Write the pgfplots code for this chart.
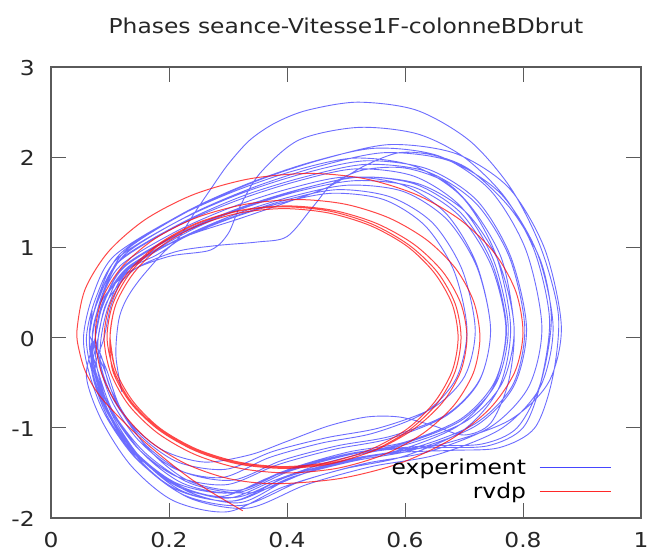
\documentclass[border=0pt]{standalone}
\usepackage{fontspec}
\setmainfont{DejaVu Sans}[FakeStretch=1.14]
\usepackage{pgfplots}
\pgfplotsset{compat=1.18}
\definecolor{expblue}{RGB}{30,30,255}
\definecolor{vdpred}{RGB}{255,10,10}
\definecolor{framegray}{RGB}{90,90,90}
\definecolor{legblue}{RGB}{70,70,255}
\definecolor{legred}{RGB}{255,40,40}
\begin{document}
\begin{tikzpicture}
\path[use as bounding box] (0,0) rectangle (652pt,557pt);
\begin{axis}[
  at={(51pt,39pt)}, anchor=south west,
  scale only axis, width=590pt, height=451pt,
  xmin=0, xmax=1, ymin=-2, ymax=3,
  xtick={0,0.2,0.4,0.6,0.8,1}, xticklabels={0,0.2,0.4,0.6,0.8,1},
  ytick={-2,-1,0,1,2,3}, yticklabels={-2,-1,0,1,2,3},
  tick align=inside, major tick length=15pt,
  tick style={framegray, line width=1pt},
  axis line style={framegray, line width=1.2pt},
  xticklabel style={anchor=base, inner sep=0pt, yshift=-29pt},
  yticklabel style={anchor=east, inner sep=0pt, xshift=-16pt, yshift=-1pt},
  every tick label/.append style={font=\fontsize{20.5}{24}\selectfont, text=black!85},
  title={Phases seance-Vitesse1F-colonneBDbrut},
  title style={at={(0.5,1)}, anchor=base, yshift=27pt, inner sep=0pt, font=\fontsize{20.5}{24}\selectfont, text=black!85},
  legend plot pos=right,
  legend cell align=right,
  legend style={at={(0.955,0.033)}, anchor=south east, draw=none, fill=none,
    font=\fontsize{20.5}{24}\selectfont,
    nodes={inner sep=1pt}, row sep=4.5pt, column sep=12pt},
  clip=false,
]
\addplot[expblue, opacity=0.65, line width=0.9pt, smooth, tension=0.5,
  legend image code/.code={\draw[draw=legblue, line width=1.3pt, opacity=1] (0pt,0pt) -- (71pt,0pt);}] coordinates {
(0.12,-0.6)(0.11,-0.2)(0.115,0.2)(0.13,0.45)(0.16,0.72)
(0.212,1.06)(0.300,1.31)(0.388,1.49)(0.476,1.60)(0.564,1.53)(0.634,1.24)(0.683,0.74)(0.705,0.09)(0.687,-0.45)(0.634,-0.83)(0.546,-1.06)(0.458,-1.17)(0.370,-1.33)(0.291,-1.55)(0.212,-1.46)(0.150,-1.15)(0.106,-0.74)(0.084,-0.34)
(0.080,0)(0.094,0.37)(0.125,0.74)(0.215,1.09)(0.305,1.33)(0.395,1.52)(0.485,1.64)(0.575,1.56)(0.647,1.27)(0.697,0.75)(0.719,0.09)(0.701,-0.43)(0.647,-0.78)(0.557,-1.00)(0.467,-1.11)(0.377,-1.26)(0.296,-1.46)(0.215,-1.38)(0.152,-1.09)(0.107,-0.70)(0.085,-0.32)
(0.085,0)(0.099,0.38)(0.132,0.76)(0.225,1.12)(0.318,1.38)(0.411,1.57)(0.504,1.69)(0.597,1.62)(0.671,1.31)(0.722,0.78)(0.745,0.10)(0.727,-0.46)(0.671,-0.85)(0.578,-1.09)(0.485,-1.20)(0.392,-1.36)(0.308,-1.58)(0.225,-1.49)(0.159,-1.18)(0.113,-0.75)(0.090,-0.35)
(0.070,0)(0.084,0.40)(0.118,0.80)(0.213,1.18)(0.308,1.45)(0.403,1.65)(0.498,1.78)(0.593,1.70)(0.669,1.38)(0.721,0.82)(0.745,0.10)(0.726,-0.48)(0.669,-0.87)(0.574,-1.12)(0.479,-1.24)(0.384,-1.41)(0.298,-1.63)(0.213,-1.54)(0.146,-1.22)(0.099,-0.78)(0.075,-0.36)
(0.090,0)(0.104,0.40)(0.138,0.80)(0.234,1.18)(0.330,1.45)(0.426,1.65)(0.522,1.78)(0.618,1.70)(0.695,1.38)(0.748,0.82)(0.772,0.10)(0.752,-0.49)(0.695,-0.90)(0.599,-1.16)(0.503,-1.27)(0.407,-1.45)(0.320,-1.69)(0.234,-1.59)(0.167,-1.25)(0.119,-0.80)(0.095,-0.37)
(0.075,0)(0.090,0.39)(0.124,0.78)(0.222,1.16)(0.320,1.42)(0.418,1.62)(0.516,1.74)(0.614,1.67)(0.692,1.35)(0.746,0.80)(0.771,0.10)(0.751,-0.53)(0.692,-0.97)(0.594,-1.24)(0.496,-1.37)(0.398,-1.55)(0.310,-1.81)(0.222,-1.70)(0.153,-1.34)(0.104,-0.86)(0.080,-0.40)
(0.075,0)(0.090,0.40)(0.125,0.80)(0.225,1.18)(0.325,1.45)(0.425,1.65)(0.525,1.78)(0.625,1.70)(0.705,1.38)(0.760,0.82)(0.785,0.10)(0.765,-0.50)(0.705,-0.92)(0.605,-1.18)(0.505,-1.30)(0.405,-1.48)(0.315,-1.72)(0.225,-1.62)(0.155,-1.28)(0.105,-0.82)(0.080,-0.38)
(0.065,0)(0.080,0.42)(0.115,0.84)(0.215,1.24)(0.315,1.52)(0.415,1.73)(0.515,1.87)(0.615,1.79)(0.695,1.45)(0.750,0.86)(0.775,0.11)(0.755,-0.50)(0.695,-0.92)(0.595,-1.18)(0.495,-1.30)(0.395,-1.48)(0.305,-1.72)(0.215,-1.62)(0.145,-1.28)(0.095,-0.82)(0.070,-0.38)
(0.08,0)(0.095,0.40)(0.14,0.75)(0.21,0.95)(0.28,1.02)(0.35,1.06)(0.40,1.12)(0.444,1.45)(0.478,1.71)(0.53,1.86)(0.60,1.88)(0.67,1.72)(0.72,1.38)(0.765,0.85)(0.785,0.10)(0.775,-0.50)(0.745,-0.95)(0.70,-1.08)(0.645,-0.97)(0.59,-0.88)(0.535,-0.88)(0.47,-0.98)(0.40,-1.15)(0.337,-1.30)(0.26,-1.38)(0.19,-1.25)(0.135,-0.95)(0.10,-0.55)(0.085,-0.20)
(0.065,0.05)(0.081,0.43)(0.117,0.86)(0.221,1.27)(0.325,1.57)(0.429,1.78)(0.533,1.92)(0.637,1.84)(0.720,1.49)(0.777,0.89)(0.803,0.11)(0.783,-0.52)(0.720,-0.95)(0.616,-1.22)(0.512,-1.34)(0.408,-1.52)(0.315,-1.77)(0.221,-1.67)(0.148,-1.32)(0.096,-0.84)(0.070,-0.39)
(0.060,0)(0.076,0.44)(0.113,0.88)(0.218,1.30)(0.323,1.60)(0.428,1.82)(0.533,1.96)(0.638,1.87)(0.722,1.52)(0.779,0.90)(0.806,0.11)(0.785,-0.53)(0.722,-0.97)(0.617,-1.24)(0.512,-1.37)(0.407,-1.55)(0.312,-1.81)(0.218,-1.70)(0.144,-1.34)(0.092,-0.86)(0.065,-0.40)
(0.055,0)(0.070,0.45)(0.106,0.90)(0.208,1.32)(0.310,1.62)(0.412,1.85)(0.514,1.99)(0.616,1.90)(0.698,1.55)(0.754,0.92)(0.779,0.11)(0.759,-0.56)(0.698,-1.03)(0.596,-1.32)(0.494,-1.46)(0.392,-1.66)(0.300,-1.93)(0.208,-1.81)(0.137,-1.43)(0.086,-0.92)(0.060,-0.43)
(0.075,0)(0.09,0.40)(0.13,0.78)(0.22,1.10)(0.32,1.32)(0.40,1.50)(0.47,1.67)(0.53,1.90)(0.59,2.05)(0.65,2.02)(0.71,1.86)(0.78,1.42)(0.83,0.85)(0.848,0.20)(0.83,-0.50)(0.79,-1.00)(0.73,-1.18)(0.64,-1.20)(0.55,-1.25)(0.46,-1.36)(0.37,-1.55)(0.29,-1.76)(0.21,-1.62)(0.14,-1.25)(0.095,-0.80)(0.072,-0.36)
(0.065,0)(0.081,0.47)(0.119,0.94)(0.227,1.39)(0.335,1.71)(0.443,1.95)(0.551,2.10)(0.659,2.01)(0.745,1.63)(0.805,0.97)(0.832,0.12)(0.810,-0.54)(0.745,-0.99)(0.637,-1.27)(0.529,-1.40)(0.421,-1.60)(0.324,-1.86)(0.227,-1.75)(0.151,-1.38)(0.097,-0.89)(0.070,-0.41)
(0.070,0)(0.087,0.46)(0.125,0.92)(0.235,1.36)(0.345,1.67)(0.455,1.90)(0.565,2.05)(0.675,1.96)(0.763,1.59)(0.824,0.94)(0.851,0.12)(0.829,-0.55)(0.763,-1.01)(0.653,-1.30)(0.543,-1.43)(0.433,-1.63)(0.334,-1.89)(0.235,-1.78)(0.158,-1.41)(0.103,-0.90)(0.076,-0.42)
(0.070,0)(0.087,0.48)(0.126,0.96)(0.238,1.42)(0.350,1.74)(0.462,1.98)(0.574,2.14)(0.686,2.04)(0.776,1.66)(0.837,0.98)(0.865,0.12)(0.843,-0.50)(0.776,-0.92)(0.664,-1.18)(0.552,-1.30)(0.440,-1.48)(0.339,-1.72)(0.238,-1.62)(0.160,-1.28)(0.104,-0.82)(0.076,-0.38)
(0.07,0)(0.085,0.40)(0.13,0.72)(0.20,0.90)(0.27,0.97)(0.30,1.15)(0.32,1.45)(0.354,1.82)(0.42,2.19)(0.52,2.33)(0.62,2.26)(0.70,2.00)(0.77,1.55)(0.82,0.95)(0.845,0.20)(0.83,-0.50)(0.80,-1.00)(0.74,-1.20)(0.65,-1.22)(0.56,-1.25)(0.47,-1.38)(0.38,-1.58)(0.30,-1.78)(0.22,-1.65)(0.14,-1.28)(0.095,-0.82)(0.07,-0.36)
(0.075,0)(0.088,0.40)(0.13,0.75)(0.18,0.92)(0.213,1.08)(0.24,1.35)(0.27,1.64)(0.30,1.92)(0.337,2.19)(0.38,2.38)(0.434,2.52)(0.52,2.61)(0.62,2.52)(0.71,2.18)(0.78,1.65)(0.83,1.00)(0.86,0.25)(0.85,-0.45)(0.82,-1.00)(0.76,-1.22)(0.68,-1.25)(0.58,-1.28)(0.48,-1.40)(0.40,-1.58)(0.32,-1.83)(0.23,-1.70)(0.15,-1.32)(0.10,-0.85)(0.075,-0.38)(0.065,0)(0.07,0.30)
};
\addlegendentry{experiment}
\addplot[vdpred, opacity=0.75, line width=1pt, smooth, tension=0.5,
  legend image code/.code={\draw[draw=legred, line width=1.3pt, opacity=1] (0pt,0pt) -- (71pt,0pt);}] coordinates {
(0.325,-1.92)(0.24,-1.58)(0.156,-1.14)(0.088,-0.69)(0.06,-0.40)(0.048,-0.15)(0.044,0.08)
(0.0575,0.531)(0.097,0.95)(0.160,1.31)(0.242,1.587)(0.337,1.761)(0.44,1.82)
(0.533,1.76)(0.62,1.583)(0.6945,1.301)(0.752,0.935)(0.788,0.508)(0.80,0.05)
(0.786,-0.3825)(0.744,-0.785)(0.677,-1.131)(0.59,-1.396)(0.489,-1.563)(0.38,-1.62)
(0.301,-1.563)(0.2275,-1.396)(0.164,-1.131)(0.116,-0.785)(0.085,-0.3825)(0.075,0.05)
(0.087,0.433)(0.121,0.79)(0.176,1.096)(0.2475,1.332)(0.331,1.48)(0.42,1.53)
(0.4995,1.478)(0.5735,1.325)(0.637,1.082)(0.686,0.765)(0.7166,0.396)(0.727,0)
(0.716,-0.389)(0.683,-0.75)(0.631,-1.06)(0.5635,-1.299)(0.485,-1.449)(0.40,-1.50)
(0.32,-1.449)(0.245,-1.299)(0.181,-1.06)(0.132,-0.75)(0.101,-0.389)(0.09,0)
(0.1005,0.378)(0.1315,0.73)(0.181,1.032)(0.245,1.264)(0.32,1.41)(0.40,1.46)
(0.479,1.41)(0.5525,1.264)(0.6156,1.032)(0.664,0.73)(0.6946,0.378)(0.705,0)
(0.6945,-0.373)(0.6635,-0.72)(0.614,-1.018)(0.55,-1.247)(0.475,-1.391)(0.395,-1.44)
(0.318,-1.391)(0.246,-1.247)(0.184,-1.018)(0.137,-0.72)(0.107,-0.373)
(0.095,0)(0.105,0.3755)(0.135,0.725)(0.183,1.025)(0.245,1.256)(0.317,1.401)(0.395,1.45)
(0.473,1.401)(0.545,1.256)(0.607,1.025)(0.655,0.725)(0.685,0.3755)(0.695,0)
(0.685,-0.3755)(0.655,-0.725)(0.607,-1.025)(0.545,-1.256)(0.473,-1.401)(0.395,-1.45)
(0.317,-1.401)(0.245,-1.256)(0.183,-1.025)(0.135,-0.725)(0.105,-0.3755)
(0.100,0)(0.110,0.370)(0.140,0.715)(0.186,1.011)(0.2475,1.238)(0.319,1.381)(0.395,1.43)
(0.471,1.381)(0.5425,1.238)(0.604,1.011)(0.650,0.715)(0.680,0.370)(0.690,0)
(0.680,-0.370)(0.650,-0.715)(0.604,-1.011)(0.5425,-1.238)(0.471,-1.381)(0.395,-1.43)
(0.319,-1.381)(0.2475,-1.238)(0.186,-1.011)(0.140,-0.715)(0.110,-0.370)
(0.100,0)(0.110,0.370)(0.140,0.715)(0.186,1.011)(0.2475,1.238)(0.319,1.381)(0.395,1.43)
(0.471,1.381)(0.5425,1.238)(0.604,1.011)(0.650,0.715)(0.680,0.370)(0.690,0)
(0.680,-0.370)(0.650,-0.715)(0.604,-1.011)(0.5425,-1.238)(0.471,-1.381)(0.395,-1.43)
(0.319,-1.381)(0.2475,-1.238)(0.186,-1.011)(0.140,-0.715)(0.110,-0.370)(0.100,0)
};
\addlegendentry{rvdp}
\end{axis}
\end{tikzpicture}
\end{document}
